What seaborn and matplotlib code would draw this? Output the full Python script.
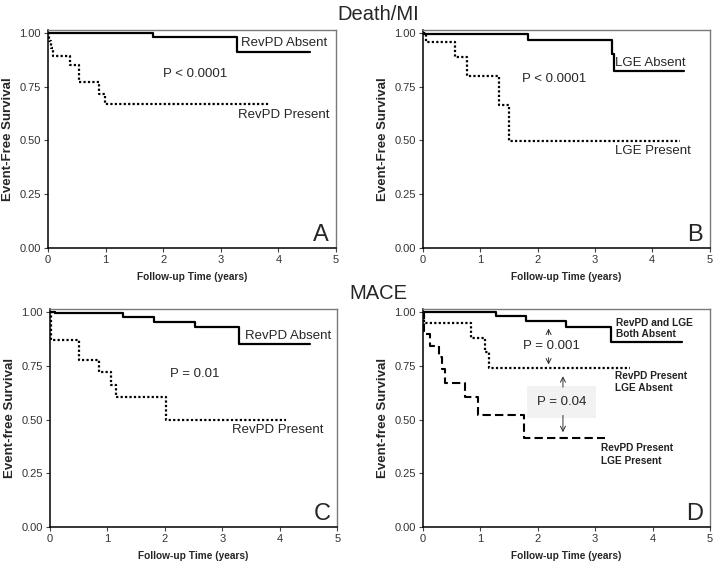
import numpy as np
import pandas as pd
import seaborn as sns
import matplotlib.pyplot as plt

# Kaplan-Meier step points (time in years, survival)
a_absent_t = [0, 1.83, 3.28, 4.55]
a_absent_s = [1.0, 0.979, 0.909, 0.909]
a_present_t = [0, 0.02, 0.05, 0.08, 0.38, 0.54, 0.89, 0.99, 3.84]
a_present_s = [1.0, 0.96, 0.93, 0.893, 0.852, 0.770, 0.717, 0.667, 0.667]

b_absent_t = [0, 1.83, 3.29, 3.33, 4.56]
b_absent_s = [0.993, 0.966, 0.90, 0.822, 0.822]
b_present_t = [0, 0.05, 0.57, 0.77, 1.33, 1.51, 4.48]
b_present_s = [1.0, 0.955, 0.889, 0.797, 0.664, 0.497, 0.497]

c_absent_t = [0, 0.08, 1.27, 1.81, 2.52, 3.29, 4.52]
c_absent_s = [1.0, 0.992, 0.976, 0.953, 0.929, 0.849, 0.849]
c_present_t = [0, 0.02, 0.51, 0.86, 1.07, 1.15, 2.02, 4.11]
c_present_s = [1.0, 0.871, 0.777, 0.722, 0.660, 0.603, 0.497, 0.497]

d_none_t = [0, 0.05, 1.28, 1.80, 2.50, 3.27, 4.52]
d_none_s = [1.0, 0.997, 0.979, 0.959, 0.930, 0.858, 0.858]
d_pd_t = [0, 0.03, 0.84, 1.08, 1.15, 3.61]
d_pd_s = [1.0, 0.948, 0.880, 0.812, 0.740, 0.740]
d_both_t = [0, 0.02, 0.12, 0.28, 0.34, 0.39, 0.73, 0.96, 1.76, 3.18]
d_both_s = [1.0, 0.897, 0.843, 0.789, 0.735, 0.670, 0.603, 0.519, 0.413, 0.413]

x_ticks = [0, 1, 2, 3, 4, 5]
y_ticks = [0.0, 0.25, 0.5, 0.75, 1.0]

sns.set_style("white")
plt.rcParams['font.family'] = ['Liberation Sans', 'DejaVu Sans']

fig = plt.figure(figsize=(7.16, 5.62), dpi=100)
fig.patch.set_facecolor('white')

pos = {
    'A': [0.0670, 0.5587, 0.4022, 0.3879],
    'B': [0.5904, 0.5587, 0.4008, 0.3879],
    'C': [0.0698, 0.0617, 0.4013, 0.3884],
    'D': [0.5904, 0.0617, 0.4013, 0.3884],
}

dotted = (0, (1, 1))
dashed = (0, (4, 2))


def km(ax, t, s, ls, lw=1.6):
    df = pd.DataFrame({'t': t, 's': s})
    sns.lineplot(data=df, x='t', y='s', ax=ax, color='black', linestyle=ls,
                 linewidth=lw, drawstyle='steps-post', estimator=None,
                 sort=False, legend=False)


def style_axes(ax, ylabel, letter):
    ax.set_xlim(0, 5)
    ax.set_ylim(0, 1.0125)
    ax.set_xticks(x_ticks)
    ax.set_yticks(y_ticks)
    ax.set_yticklabels(['%.2f' % v for v in y_ticks])
    for side in ['left', 'bottom']:
        ax.spines[side].set_color('black')
        ax.spines[side].set_linewidth(1.1)
    for side in ['top', 'right']:
        ax.spines[side].set_color('#7a7a7a')
        ax.spines[side].set_linewidth(1.0)
    ax.tick_params(axis='both', direction='out', length=3, width=0.8,
                   color='#444444', labelcolor='#333333', labelsize=8, pad=2)
    ax.tick_params(left=True, bottom=True)
    ax.set_xlabel('Follow-up Time (years)', fontsize=7.3, fontweight='bold',
                  labelpad=5)
    ax.set_ylabel(ylabel, fontsize=9.5, fontweight='bold', labelpad=4)
    ax.text(4.88, 0.06, letter, fontsize=17, ha='right', va='center')


# Panel A
ax = fig.add_axes(pos['A'])
km(ax, a_absent_t, a_absent_s, '-')
km(ax, a_present_t, a_present_s, dotted)
style_axes(ax, 'Event-Free Survival', 'A')
ax.text(3.36, 0.95, 'RevPD Absent', fontsize=9.5, va='center')
ax.text(2.0, 0.81, 'P < 0.0001', fontsize=9.5, va='center')
ax.text(3.30, 0.617, 'RevPD Present', fontsize=9.5, va='center')

# Panel B
ax = fig.add_axes(pos['B'])
km(ax, b_absent_t, b_absent_s, '-')
km(ax, b_present_t, b_present_s, dotted)
style_axes(ax, 'Event-Free Survival', 'B')
ax.text(3.35, 0.86, 'LGE Absent', fontsize=9.5, va='center')
ax.text(1.73, 0.785, 'P < 0.0001', fontsize=9.5, va='center')
ax.text(3.35, 0.449, 'LGE Present', fontsize=9.5, va='center')

# Panel C
ax = fig.add_axes(pos['C'])
km(ax, c_absent_t, c_absent_s, '-')
km(ax, c_present_t, c_present_s, dotted)
style_axes(ax, 'Event-free Survival', 'C')
ax.text(3.39, 0.887, 'RevPD Absent', fontsize=9.5, va='center')
ax.text(2.08, 0.712, 'P = 0.01', fontsize=9.5, va='center')
ax.text(3.17, 0.45, 'RevPD Present', fontsize=9.5, va='center')

# Panel D
ax = fig.add_axes(pos['D'])
km(ax, d_none_t, d_none_s, '-')
km(ax, d_pd_t, d_pd_s, dotted)
km(ax, d_both_t, d_both_s, dashed, lw=1.5)
style_axes(ax, 'Event-free Survival', 'D')
lab_kw = dict(fontsize=7.3, fontweight='bold', va='center', color='#222222')
ax.text(3.36, 0.949, 'RevPD and LGE', **lab_kw)
ax.text(3.36, 0.896, 'Both Absent', **lab_kw)
ax.text(3.35, 0.70, 'RevPD Present', **lab_kw)
ax.text(3.35, 0.645, 'LGE Absent', **lab_kw)
ax.text(3.10, 0.366, 'RevPD Present', **lab_kw)
ax.text(3.10, 0.307, 'LGE Present', **lab_kw)
ax.text(1.74, 0.84, 'P = 0.001', fontsize=9.5, va='center')
ax.text(2.42, 0.583, 'P = 0.04', fontsize=9.5, va='center', ha='center',
        bbox=dict(boxstyle='square,pad=0.75', facecolor='#f2f2f2',
                  edgecolor='none'))
arrow = dict(arrowstyle='->', color='#333333', lw=0.7, mutation_scale=9)
ax.annotate('', xy=(2.19, 0.935), xytext=(2.19, 0.88), arrowprops=arrow)
ax.annotate('', xy=(2.19, 0.742), xytext=(2.19, 0.80), arrowprops=arrow)
ax.annotate('', xy=(2.44, 0.714), xytext=(2.44, 0.637), arrowprops=arrow)
ax.annotate('', xy=(2.44, 0.428), xytext=(2.44, 0.532), arrowprops=arrow)

fig.text(0.528, 0.975, 'Death/MI', fontsize=14.5, ha='center', va='center')
fig.text(0.528, 0.478, 'MACE', fontsize=14.5, ha='center', va='center')

fig.savefig('out.png', dpi=100, facecolor='white')
